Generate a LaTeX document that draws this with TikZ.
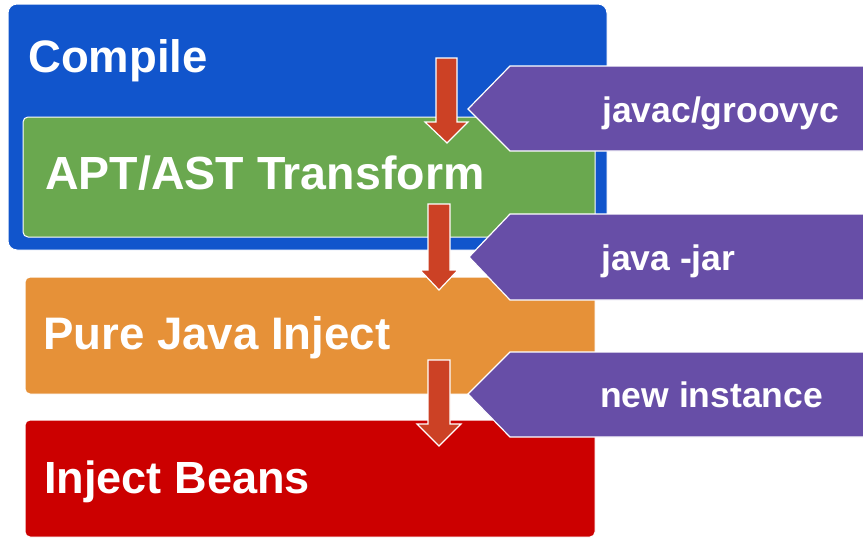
\documentclass[tikz,border=0pt]{standalone}
\usepackage{fontspec}
\setmainfont{Liberation Sans}
\definecolor{stageblue}{HTML}{1155CC}
\definecolor{stagegreen}{HTML}{6AA84F}
\definecolor{stageorange}{HTML}{E69138}
\definecolor{stagered}{HTML}{CC0000}
\definecolor{toolpurple}{HTML}{674EA7}
\definecolor{flowarrow}{HTML}{CC4125}
\begin{document}
\begin{tikzpicture}[x=1pt,y=-1pt,
  stagebox/.style={draw=white,line width=1pt,rounded corners=5pt},
  tooltag/.style={fill=toolpurple,draw=white,line width=1.2pt},
  downarrow/.style={fill=flowarrow,draw=white,line width=1.2pt},
  stagetext/.style={anchor=base west,inner sep=0pt,text=white,font=\bfseries\fontsize{#1}{50}\selectfont},
  stagetext/.default=46.5,
  tooltext/.style={anchor=base west,inner sep=0pt,text=white,font=\bfseries\fontsize{35.5}{40}\selectfont}]
\useasboundingbox (0,0) rectangle (863,538);

% stage boxes
\path[stagebox,fill=stageblue,rounded corners=9pt] (8,4) rectangle (607,250);
\path[stagebox,fill=stagegreen] (23,117) rectangle (595,237);
\path[stagebox,fill=stageorange] (25,277) rectangle (595,394);
\path[stagebox,fill=stagered] (25,420) rectangle (595,537);

% tool tags
\path[tooltag] (866,66) -- (510,66) -- (468,109) -- (510,151) -- (866,151);
\path[tooltag] (866,214) -- (510,214) -- (469,257) -- (510,300) -- (866,300);
\path[tooltag] (866,352) -- (510,352) -- (468,394) -- (510,437) -- (866,437);

% flow arrows
\path[downarrow] (436,58) -- (457,58) -- (457,122) -- (468,122) -- (447,143)
  -- (425,122) -- (436,122) -- cycle;
\path[downarrow] (428,204) -- (450,204) -- (450,270) -- (458,270) -- (439,290)
  -- (420,270) -- (428,270) -- cycle;
\path[downarrow] (428,360) -- (450,360) -- (450,424) -- (461,424) -- (439,446)
  -- (417,424) -- (428,424) -- cycle;

% labels
\node[stagetext=45.5] (compile) at (28,72) {Compile};
\node[stagetext] (transform) at (45,189) {APT/AST Transform};
\node[stagetext=45.6] (purejava) at (43,349) {Pure Java Inject};
\node[stagetext=45.1] (beans) at (44,493) {Inject Beans};
\node[tooltext] (javac) at (602,122) {javac/groovyc};
\node[tooltext] (javajar) at (601,270) {java -jar};
\node[tooltext] (newinst) at (600,407) {new instance};
\end{tikzpicture}
\end{document}
